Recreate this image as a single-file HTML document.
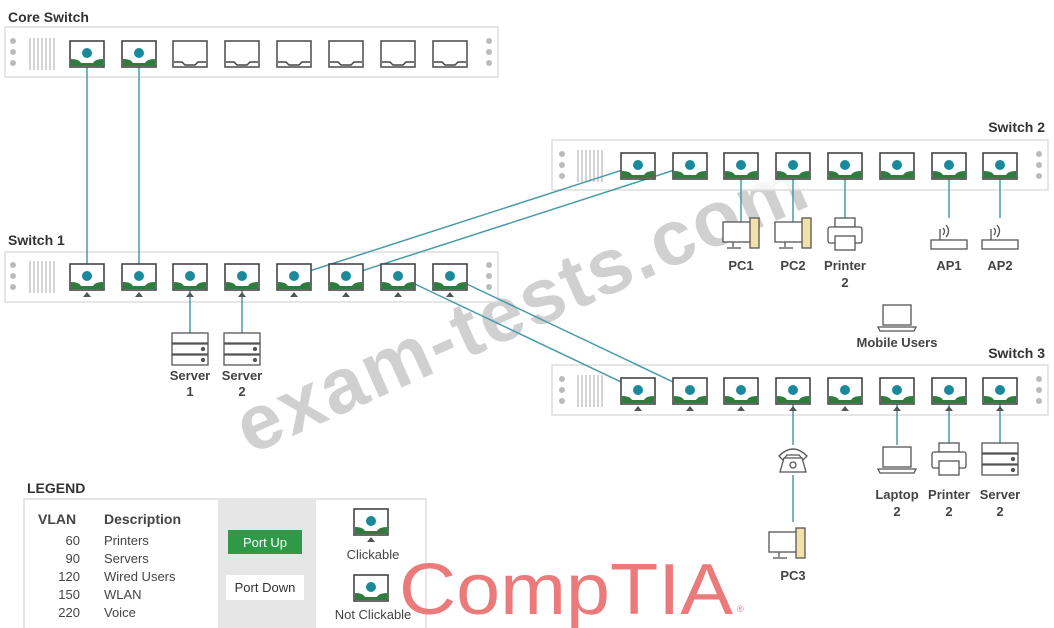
<!DOCTYPE html>
<html><head><meta charset="utf-8"><style>
html,body{margin:0;padding:0;background:#fff;}
svg{display:block;font-family:"Liberation Sans",sans-serif;}
</style></head><body>
<svg width="1054" height="628" viewBox="0 0 1054 628" xmlns="http://www.w3.org/2000/svg">
<defs>
 <g id="up">
  <rect x="-17" y="-13" width="34" height="26" fill="#fff" stroke="#444" stroke-width="1.6"/>
  <path d="M-16,5 Q-8,5 -6,9 L6,9 Q8,5 16,5 L16,12 L-16,12 Z" fill="#2e7d3e"/>
  <circle cx="0" cy="-1" r="5" fill="#1a8a9a"/>
 </g>
 <g id="upt"><use href="#up"/><path d="M-4,20 L0,15 L4,20 Z" fill="#555"/></g>
 <g id="down">
  <rect x="-17" y="-13" width="34" height="26" fill="#fff" stroke="#555" stroke-width="1.6"/>
  <path d="M-16,8 L-8,8 Q-6,10 -5,11 L5,11 Q6,10 8,8 L16,8" fill="none" stroke="#444" stroke-width="1.5"/>
 </g>
 <g id="rackL">
  <circle cx="0" cy="0" r="3" fill="#bbb"/><circle cx="0" cy="11" r="3" fill="#bbb"/><circle cx="0" cy="22" r="3" fill="#bbb"/>
 </g>
 <g id="vents" stroke="#aaa" stroke-width="1">
  <line x1="0" y1="0" x2="0" y2="32"/><line x1="4" y1="0" x2="4" y2="32"/><line x1="8" y1="0" x2="8" y2="32"/><line x1="12" y1="0" x2="12" y2="32"/><line x1="16" y1="0" x2="16" y2="32"/><line x1="20" y1="0" x2="20" y2="32"/><line x1="24" y1="0" x2="24" y2="32"/>
 </g>
 <g id="server" fill="#fff" stroke="#555" stroke-width="1.3">
  <rect x="-18" y="0" width="36" height="10"/><rect x="-18" y="11" width="36" height="10"/><rect x="-18" y="22" width="36" height="10"/>
  <circle cx="13" cy="16" r="1.5" fill="#555"/><circle cx="13" cy="27" r="1.5" fill="#555"/>
 </g>
 <g id="pc" fill="#fff" stroke="#555" stroke-width="1.3">
  <rect x="-18" y="0" width="28" height="20"/><line x1="-8" y1="20" x2="-8" y2="25"/><line x1="-14" y1="26" x2="0" y2="26"/>
  <rect x="9" y="-4" width="9" height="30" fill="#f3e2a8"/>
 </g>
 <g id="printer" fill="#fff" stroke="#555" stroke-width="1.3">
  <rect x="-10" y="0" width="20" height="9"/><rect x="-17" y="9" width="34" height="16" rx="2"/><rect x="-10" y="18" width="20" height="14"/>
 </g>
 <g id="ap" fill="none" stroke="#555" stroke-width="1.3">
  <rect x="-18" y="15" width="36" height="9" fill="#fff"/><line x1="-9" y1="15" x2="-9" y2="4"/>
  <path d="M-6,3 Q-3,6 -6,10 M-3,0 Q2,6 -3,12"/>
 </g>
 <g id="laptop" fill="#fff" stroke="#555" stroke-width="1.3">
  <rect x="-14" y="0" width="28" height="20"/><path d="M-19,22 L19,22 L17,26 L-17,26 Z"/>
 </g>
</defs>

<text x="0" y="0" transform="translate(250,455) rotate(-24)" font-size="78" font-weight="bold" fill="#c8c8c8" fill-opacity="0.85" letter-spacing="2">exam-tests.com</text>

<text x="8" y="22" font-size="14" font-weight="bold" fill="#333">Core Switch</text>
<rect x="5" y="27" width="493" height="50" fill="#fff" fill-opacity="0.8" stroke="#ddd" stroke-width="1.5"/>
<use href="#rackL" x="13" y="41"/><use href="#rackL" x="489" y="41"/>
<use href="#vents" x="30" y="38"/>

<text x="8" y="245" font-size="14" font-weight="bold" fill="#333">Switch 1</text>
<rect x="5" y="252" width="493" height="50" fill="#fff" fill-opacity="0.8" stroke="#ddd" stroke-width="1.5"/>
<use href="#rackL" x="13" y="265"/><use href="#rackL" x="489" y="265"/>
<use href="#vents" x="30" y="261"/>

<text x="1045" y="132" font-size="14" font-weight="bold" fill="#333" text-anchor="end">Switch 2</text>
<rect x="552" y="140" width="496" height="50" fill="#fff" fill-opacity="0.8" stroke="#ddd" stroke-width="1.5"/>
<use href="#rackL" x="562" y="154"/><use href="#rackL" x="1039" y="154"/>
<use href="#vents" x="578" y="150"/>

<text x="1045" y="358" font-size="14" font-weight="bold" fill="#333" text-anchor="end">Switch 3</text>
<rect x="552" y="365" width="496" height="50" fill="#fff" fill-opacity="0.8" stroke="#ddd" stroke-width="1.5"/>
<use href="#rackL" x="562" y="379"/><use href="#rackL" x="1039" y="379"/>
<use href="#vents" x="578" y="375"/>

<g stroke="#4a9aa8" stroke-width="1.5" fill="none">
 <line x1="87" y1="53" x2="87" y2="276"/>
 <line x1="139" y1="53" x2="139" y2="276"/>
 <line x1="294" y1="276" x2="638" y2="165"/>
 <line x1="346" y1="276" x2="690" y2="165"/>
 <line x1="398" y1="276" x2="638" y2="390"/>
 <line x1="450" y1="276" x2="690" y2="390"/>
 <line x1="190" y1="276" x2="190" y2="333"/>
 <line x1="242" y1="276" x2="242" y2="333"/>
 <line x1="741" y1="165" x2="741" y2="222"/>
 <line x1="793" y1="165" x2="793" y2="222"/>
 <line x1="845" y1="165" x2="845" y2="218"/>
 <line x1="949" y1="165" x2="949" y2="218"/>
 <line x1="1000" y1="165" x2="1000" y2="218"/>
 <line x1="793" y1="390" x2="793" y2="445"/>
 <line x1="793" y1="475" x2="793" y2="522"/>
 <line x1="897" y1="390" x2="897" y2="445"/>
 <line x1="949" y1="390" x2="949" y2="445"/>
 <line x1="1000" y1="390" x2="1000" y2="445"/>
</g>

<use href="#up" x="87" y="54"/><use href="#up" x="139" y="54"/>
<use href="#down" x="190" y="54"/><use href="#down" x="242" y="54"/><use href="#down" x="294" y="54"/><use href="#down" x="346" y="54"/><use href="#down" x="398" y="54"/><use href="#down" x="450" y="54"/>
<use href="#upt" x="87" y="277"/><use href="#upt" x="139" y="277"/><use href="#upt" x="190" y="277"/><use href="#upt" x="242" y="277"/><use href="#upt" x="294" y="277"/><use href="#upt" x="346" y="277"/><use href="#upt" x="398" y="277"/><use href="#upt" x="450" y="277"/>
<use href="#up" x="638" y="166"/><use href="#up" x="690" y="166"/><use href="#up" x="741" y="166"/><use href="#up" x="793" y="166"/><use href="#up" x="845" y="166"/><use href="#up" x="897" y="166"/><use href="#up" x="949" y="166"/><use href="#up" x="1000" y="166"/>
<use href="#upt" x="638" y="391"/><use href="#upt" x="690" y="391"/><use href="#upt" x="741" y="391"/><use href="#upt" x="793" y="391"/><use href="#upt" x="845" y="391"/><use href="#upt" x="897" y="391"/><use href="#upt" x="949" y="391"/><use href="#upt" x="1000" y="391"/>

<g font-size="13" fill="#444" font-weight="bold" text-anchor="middle">
 <use href="#server" x="190" y="333"/><use href="#server" x="242" y="333"/>
 <text x="190" y="380">Server</text><text x="190" y="396">1</text>
 <text x="242" y="380">Server</text><text x="242" y="396">2</text>

 <use href="#pc" x="741" y="222"/><use href="#pc" x="793" y="222"/>
 <use href="#printer" x="845" y="218"/>
 <use href="#ap" x="949" y="225"/><use href="#ap" x="1000" y="225"/>
 <text x="741" y="270">PC1</text><text x="793" y="270">PC2</text>
 <text x="845" y="270">Printer</text><text x="845" y="287">2</text>
 <text x="949" y="270">AP1</text><text x="1000" y="270">AP2</text>

 <use href="#laptop" x="897" y="305"/>
 <text x="897" y="347">Mobile Users</text>

 <g fill="#fff" stroke="#555" stroke-width="1.3"><path d="M779,456 Q793,442 807,456 L803,460 L799,455 L787,455 L783,460 Z"/><path d="M784,458 L802,458 L806,472 L780,472 Z"/><circle cx="793" cy="465" r="3"/></g>
 <use href="#pc" x="787" y="532"/>
 <text x="793" y="580">PC3</text>

 <use href="#laptop" x="897" y="447"/>
 <use href="#printer" x="949" y="443"/>
 <use href="#server" x="1000" y="443"/>
 <text x="897" y="499">Laptop</text><text x="897" y="516">2</text>
 <text x="949" y="499">Printer</text><text x="949" y="516">2</text>
 <text x="1000" y="499">Server</text><text x="1000" y="516">2</text>
</g>

<text x="27" y="493" font-size="14" font-weight="bold" fill="#333">LEGEND</text>
<rect x="24" y="499" width="402" height="135" fill="#fff" stroke="#ddd" stroke-width="1.5"/>
<rect x="218" y="500" width="98" height="128" fill="#e6e6e6"/>
<g fill="#444" font-size="13">
 <text x="38" y="524" font-size="14" font-weight="bold">VLAN</text>
 <text x="104" y="524" font-size="14" font-weight="bold">Description</text>
 <g text-anchor="end"><text x="80" y="545">60</text><text x="80" y="563">90</text><text x="80" y="581">120</text><text x="80" y="599">150</text><text x="80" y="617">220</text></g>
 <text x="104" y="545">Printers</text><text x="104" y="563">Servers</text><text x="104" y="581">Wired Users</text><text x="104" y="599">WLAN</text><text x="104" y="617">Voice</text>
</g>
<rect x="228" y="530" width="74" height="24" fill="#2e9a48"/>
<text x="265" y="547" font-size="13" fill="#fff" text-anchor="middle">Port Up</text>
<rect x="226" y="575" width="78" height="25" fill="#fff"/>
<text x="265" y="592" font-size="13" fill="#333" text-anchor="middle">Port Down</text>
<use href="#upt" x="371" y="522"/>
<text x="373" y="559" font-size="13" fill="#444" text-anchor="middle">Clickable</text>
<use href="#up" x="371" y="588"/>
<text x="373" y="619" font-size="13" fill="#444" text-anchor="middle">Not Clickable</text>

<text x="399" y="614" font-size="72" fill="#eb7a7a" textLength="334" lengthAdjust="spacingAndGlyphs">CompTIA</text>
<text x="737" y="612" font-size="9" fill="#eb7a7a">®</text>
</svg>
</body></html>
